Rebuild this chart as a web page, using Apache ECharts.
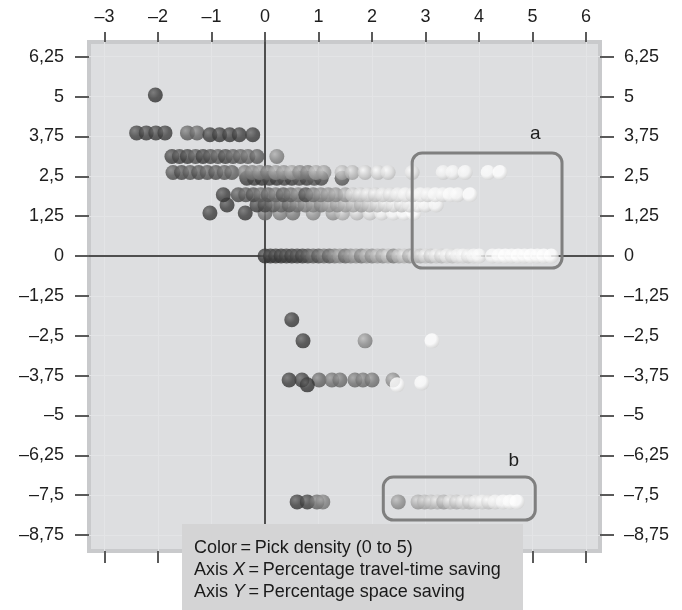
<!DOCTYPE html>
<html><head><meta charset="utf-8">
<script src="https://cdn.jsdelivr.net/npm/echarts@6/dist/echarts.min.js"></script>
<style>html,body{margin:0;padding:0;background:#fff}#c{width:682px;height:610px}</style>
</head><body><div id="c"></div>
<script>
// ---- tick labels ----
const xTicks = [-3,-2,-1,0,1,2,3,4,5,6];
const yTicks = [-8.75,-7.5,-6.25,-5,-3.75,-2.5,-1.25,0,1.25,2.5,3.75,5,6.25];

// ---- data rows: y value, x values, pick density (0..5) ----
const rowA = {y:5.05, x:[-2.05], d:[0.1]};
const rowB1 = {y:3.86, x:[-2.4,-2.22,-2.04,-1.87,-1.45,-1.27], d:[0.3,0.3,0.3,0.3,1.1,1.2]};
const rowB2 = {y:3.8, x:[-1.03,-0.85,-0.66,-0.48,-0.23], d:[0.2,0.2,0.2,0.2,0.2]};
const rowC = {y:3.12, x:[-1.74,-1.6,-1.45,-1.3,-1.16,-1.02,-0.88,-0.74,-0.6,-0.46,-0.32,-0.15,0.22],
              d:[0.3,0.5,0.3,0.8,0.3,0.6,0.9,0.5,0.9,1.0,1.2,1.0,2.0]};
const rowD1 = {y:2.62, x:[-1.72,-1.56,-1.4,-1.24,-1.08,-0.92,-0.76,-0.62,-0.38,-0.24,-0.1,0.05,0.2,0.35,0.5,0.65,0.8,0.95,1.1,1.44,1.63,1.87,2.11,2.3,2.75,3.33,3.51,3.74,4.17,4.39],
              d:[0.8,0.6,0.9,0.7,0.9,0.8,1.0,1.1,1.6,1.8,2.0,1.6,2.4,2.2,2.6,2.0,1.8,2.8,2.6,3.2,3.3,3.8,4.0,4.2,4.3,4.6,4.7,4.8,4.9,5.0]};
const rowD2 = {y:2.44, x:[-0.34,-0.2,-0.06,0.08,0.22,0.36,0.5,0.64,0.78,0.92,1.05,1.44],
              d:[0.3,0.4,0.2,0.5,0.3,0.6,0.4,0.8,0.5,0.9,0.7,1.0]};
const rowE = {y:1.92, x:[-0.78,-0.5,-0.36,-0.22,-0.08,0.06,0.2,0.34,0.48,0.62,0.76,0.9,1.04,1.18,1.32,1.5,1.64,1.78,1.92,2.06,2.2,2.34,2.48,2.62,2.76,2.9,3.04,3.18,3.32,3.46,3.6,3.83],
              d:[0.2,0.6,0.9,0.7,1.2,1.0,1.5,0.9,1.3,1.8,0.6,1.6,2.0,2.2,2.4,2.6,3.6,3.8,4.0,3.9,4.2,4.1,4.4,4.6,4.3,4.7,4.5,4.8,4.6,4.9,4.8,5.0]};
const rowF = {y:1.6, x:[-0.71,-0.15,0.0,0.15,0.3,0.45,0.6,0.75,0.9,1.05,1.2,1.35,1.5,1.65,1.8,1.95,2.1,2.25,2.4,2.55,2.7,2.85,3.0,3.2],
              d:[0.2,0.3,0.6,1.0,1.4,1.2,1.7,1.9,2.2,2.0,2.6,2.5,2.9,3.1,3.0,3.4,3.7,3.9,4.2,4.0,4.4,4.6,4.7,4.8]};
const rowG = {y:1.35, x:[-1.03,-0.37,0.0,0.28,0.52,0.9,1.27,1.45,1.72,1.96,2.18,2.4,2.6,2.78],
              d:[0.2,0.2,1.5,2.0,1.8,2.4,2.6,3.4,3.8,4.2,4.6,4.8,4.9,5.0]};
const rowZero = {y:0, x:[0.0,0.1,0.2,0.3,0.4,0.5,0.6,0.7,0.8,0.9,1.0,1.1,1.2,1.3,1.4,1.5,1.6,1.7,1.8,1.9,2.0,2.1,2.2,2.3,2.4,2.5,2.6,2.7,2.8,2.9,3.0,3.1,3.2,3.3,3.4,3.5,3.6,3.7,3.8,3.9,4.0,4.25,4.37,4.49,4.61,4.73,4.85,4.97,5.09,5.21,5.35],
              d:[0.0,0.1,0.2,0.1,0.3,0.2,0.4,0.3,0.6,1.2,0.8,1.6,1.0,1.8,2.4,1.4,2.2,2.6,1.8,2.8,2.2,3.0,2.6,3.4,2.0,3.2,3.6,2.8,3.8,3.4,4.0,3.6,4.2,3.8,4.4,4.0,4.5,4.6,4.3,4.7,4.8,4.8,4.9,5.0,4.9,5.0,4.9,5.0,4.9,5.0,5.0]};
const rowH1 = {y:-2.0, x:[0.5], d:[0.2]};
const rowH2 = {y:-2.66, x:[0.71,1.87,3.12], d:[0.2,2.2,5.0]};
const rowI1 = {y:-3.89, x:[0.45,0.69,1.01,1.25,1.4,1.68,1.83,2.0,2.39], d:[0.2,0.3,1.2,1.5,1.5,1.5,1.6,1.6,2.2]};
const rowI2 = {y:-4.04, x:[0.79,2.47], d:[0.1,5.0]};
const rowI3 = {y:-3.98, x:[2.93], d:[4.9]};
const rowJ = {y:-7.71, x:[0.6,0.79,0.97,1.08,2.49,2.86,2.98,3.1,3.22,3.34,3.46,3.58,3.7,3.82,3.94,4.06,4.18,4.3,4.45,4.58,4.71],
              d:[0.2,0.3,1.3,1.9,2.3,2.9,3.2,3.4,3.6,3.0,3.8,3.5,4.0,3.7,4.2,4.4,4.1,4.6,4.8,4.9,5.0]};
const rows = [rowA,rowB1,rowB2,rowC,rowD2,rowD1,rowG,rowF,rowE,rowZero,rowH1,rowH2,rowI1,rowI2,rowI3,rowJ];

// ---- annotations (data coordinates) ----
const boxA = {x0:2.75, y0:3.23, x1:5.55, y1:-0.38, label:'a', lx:5.05, ly:3.82};
const boxB = {x0:2.21, y0:-6.93, x1:5.05, y1:-8.28, label:'b', lx:4.65, ly:-6.43};
const captionLines = ['Color\u2009=\u2009Pick density (0 to 5)', 'X', 'Y'];

const FONT = "'Liberation Sans', Arial, sans-serif";
function g2hex(v){v=Math.max(0,Math.min(255,Math.round(v)));const h=v.toString(16).padStart(2,'0');return '#'+h+h+h;}
function sphere(d){
  const g = 52 + d*40.6;
  return {type:'radial', x:0.36, y:0.34, r:0.72, colorStops:[
    {offset:0, color:g2hex(g+45)}, {offset:0.55, color:g2hex(g)}, {offset:1, color:g2hex(g*0.82)}]};
}
const points = [];
rows.forEach(r => r.x.forEach((xv,i) => points.push({value:[xv, r.y], itemStyle:{color:sphere(r.d[i])}})));

const fmt = v => String(v).replace('-', '\u2013').replace('.', ',');
const tickStyle = {color:'#5a5a5a', width:2};
const labelStyle = {color:'#1e1e1e', fontSize:18, fontFamily:FONT, formatter:fmt};
const noLine = {show:false, onZero:false};

const chart = echarts.init(document.getElementById('c'), null, {renderer:'canvas'});
const option = {
  animation:false,
  backgroundColor:'#ffffff',
  grid:{left:89, right:82, top:42, bottom:59, show:true, backgroundColor:'#dddee0', borderColor:'#c9cacc', borderWidth:4},
  xAxis:[
    {type:'value', position:'top', min:-3.29, max:6.26,
     axisLine:noLine, splitLine:{show:false},
     axisTick:{show:true, length:10, lineStyle:tickStyle, customValues:xTicks},
     axisLabel:Object.assign({margin:16, customValues:xTicks}, labelStyle)},
    {type:'value', position:'bottom', min:-3.29, max:6.26,
     axisLine:noLine, splitLine:{show:false},
     axisTick:{show:true, length:12, lineStyle:tickStyle, customValues:xTicks},
     axisLabel:{show:false}}
  ],
  yAxis:[
    {type:'value', position:'left', min:-9.25, max:6.71,
     axisLine:noLine, splitLine:{show:false},
     axisTick:{show:true, length:14, lineStyle:tickStyle, customValues:yTicks},
     axisLabel:Object.assign({margin:25, customValues:yTicks}, labelStyle)},
    {type:'value', position:'right', min:-9.25, max:6.71,
     axisLine:noLine, splitLine:{show:false},
     axisTick:{show:true, length:14, lineStyle:tickStyle, customValues:yTicks},
     axisLabel:Object.assign({margin:24, customValues:yTicks}, labelStyle)}
  ],
  series:[
    {type:'scatter', data:[], silent:true, z:1,
     markLine:{z:1, silent:true, symbol:'none', label:{show:false}, animation:false,
       lineStyle:{color:'#e3e4e6', width:1, type:'solid'},
       data: xTicks.map(v=>({xAxis:v})).concat(yTicks.map(v=>({yAxis:v})))}},
    {type:'scatter', data:[], silent:true, z:2,
     markLine:{z:2, silent:true, symbol:'none', label:{show:false}, animation:false,
       lineStyle:{color:'#4f4f4f', width:2, type:'solid'},
       data:[{xAxis:0},{yAxis:0}]}},
    {type:'scatter', z:8, symbol:'circle', symbolSize:15, data:points, silent:true,
     emphasis:{disabled:true}}
  ]
};
chart.setOption(option);

function px(x,y){return chart.convertToPixel({xAxisIndex:0, yAxisIndex:0},[x,y]);}
const graphics = [];
[boxA, boxB].forEach(b => {
  const p0 = px(b.x0,b.y0), p1 = px(b.x1,b.y1);
  graphics.push({type:'rect', z:10, shape:{x:p0[0], y:p0[1], width:p1[0]-p0[0], height:p1[1]-p0[1], r:10},
    style:{fill:'none', stroke:'#7f7f7f', lineWidth:3}});
  const pl = px(b.lx,b.ly);
  graphics.push({type:'text', z:10, x:pl[0], y:pl[1], style:{text:b.label, fill:'#1e1e1e', font:'19px '+FONT, align:'center', verticalAlign:'middle'}});
});
const CF = '18px '+FONT;
graphics.push({type:'rect', z:20, shape:{x:182, y:524, width:341, height:90}, style:{fill:'#d4d4d5'}});
graphics.push({type:'text', z:21, x:194, y:548, style:{text:captionLines[0], fill:'#1a1a1a', font:CF, verticalAlign:'middle'}});
graphics.push({type:'text', z:21, x:194, y:570, style:{
  text:'{n|Axis }{i|'+captionLines[1]+'}{n|\u2009=\u2009Percentage travel-time saving}', verticalAlign:'middle', fill:'#1a1a1a', font:CF,
  rich:{n:{font:CF, fill:'#1a1a1a'}, i:{font:'italic '+CF, fill:'#1a1a1a'}}}});
graphics.push({type:'text', z:21, x:194, y:592, style:{
  text:'{n|Axis }{i|'+captionLines[2]+'}{n|\u2009=\u2009Percentage space saving}', verticalAlign:'middle', fill:'#1a1a1a', font:CF,
  rich:{n:{font:CF, fill:'#1a1a1a'}, i:{font:'italic '+CF, fill:'#1a1a1a'}}}});
chart.setOption({graphic:graphics});
</script></body></html>
